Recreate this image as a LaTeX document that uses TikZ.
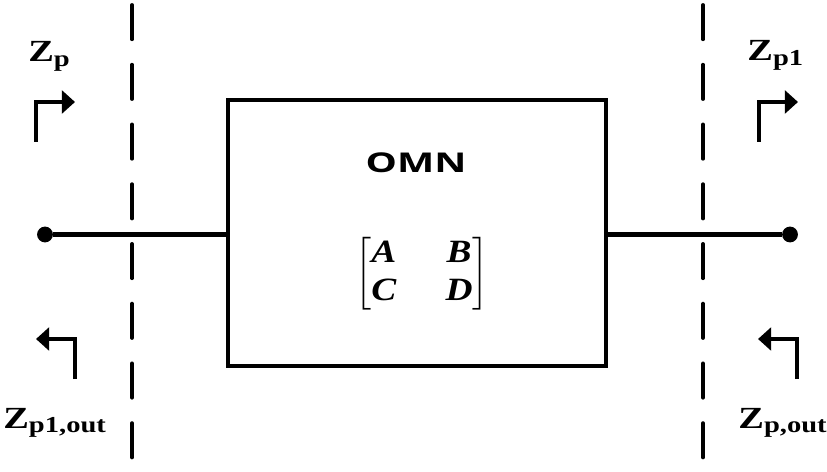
\documentclass[tikz,border=0pt]{standalone}
\usepackage{fontspec}
\usepackage{amsmath}
\setmainfont{Liberation Serif}
\newfontfamily\omnfont[FakeStretch=1.45]{Open Sans}
\newfontfamily\zfont[FakeStretch=1.25]{Liberation Serif}
\newfontfamily\elfont[FakeStretch=1.15]{Liberation Serif}
\usetikzlibrary{arrows.meta}

\tikzset{
  wire/.style={line width=2.3pt},
  port/.style={circle, fill=black, inner sep=0pt, minimum size=9pt},
  plane/.style={line width=2.2pt, line cap=round, dash pattern=on 19.5pt off 14.5pt},
  refarrow/.style={line width=2.5pt, -{Triangle[length=7.5pt,width=13pt]}},
  zlabel/.style={anchor=base west, inner sep=0pt, font=\zfont\bfseries\fontsize{17.5}{17.5}\selectfont},
}
\newcommand{\zname}[1]{Z\raisebox{-0.3ex}{\fontsize{13}{13}\selectfont #1}}
\newcommand{\el}[1]{\text{\elfont\bfseries\itshape #1}}
\newcommand{\abcdmat}{\mbox{\fontsize{18.5}{21.5}\selectfont\setlength\arraycolsep{14pt}%
  $\begin{bmatrix}\el{A} & \el{B}\\ \el{C} & \el{D}\end{bmatrix}$}}

\begin{document}
\begin{tikzpicture}[x=0.02cm, y=-0.02cm]
\useasboundingbox (0,0) rectangle (827,472);

% reference planes
\coordinate (planeLtop) at (132,5);
\coordinate (planeLbot) at (132,472);
\coordinate (planeRtop) at (703,5);
\coordinate (planeRbot) at (703,472);
\draw[plane] (planeLtop) -- (planeLbot);
\draw[plane] (planeRtop) -- (planeRbot);

% network
\node[draw, line width=2.3pt, minimum width=7.56cm, minimum height=5.32cm] (omnbox) at (417,233) {};
\node[anchor=base, font=\omnfont\bfseries\fontsize{15.5}{15.5}\selectfont] (omn) at (416,173) {OMN};
\node (abcd) at (422,274) {\abcdmat};

% ports
\node[port] (portL) at (45,234.5) {};
\node[port] (portR) at (790,234.5) {};
\draw[wire] (portL) -- (portL -| omnbox.west);
\draw[wire] (omnbox.east |- portR) -- (portR);

% impedance arrows
\coordinate (zpS) at (36,142);
\coordinate (zpE) at (75,102);
\draw[refarrow] (zpS) |- (zpE);
\coordinate (zpaS) at (759,142);
\coordinate (zpaE) at (798,102);
\draw[refarrow] (zpaS) |- (zpaE);
\coordinate (zpoS) at (75,379);
\coordinate (zpoE) at (36,339);
\draw[refarrow] (zpoS) |- (zpoE);
\coordinate (zpaoS) at (797,379);
\coordinate (zpaoE) at (758,339);
\draw[refarrow] (zpaoS) |- (zpaoE);

% labels
\node[zlabel] (zp) at (28,62) {\zname{p}};
\node[zlabel] (zpa) at (747,61) {\zname{p1}};
\node[zlabel] (zpo) at (3,428) {\zname{p1,out}};
\node[zlabel] (zpao) at (738,428) {\zname{p,out}};
\end{tikzpicture}
\end{document}
